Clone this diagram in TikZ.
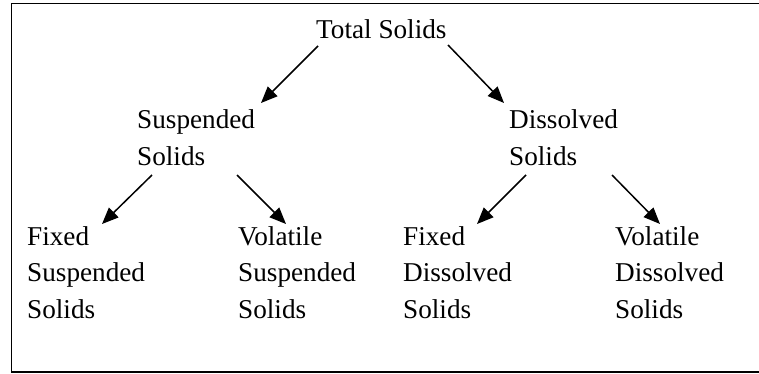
\documentclass[tikz,border=0pt]{standalone}
\usepackage{fontspec}
\setmainfont{Liberation Serif}
\usetikzlibrary{arrows.meta}
\begin{document}
\begin{tikzpicture}[x=1pt,y=-1pt,
  lbl/.style={anchor=base west,inner sep=0pt,font=\fontsize{27.2}{36.5}\selectfont,align=left},
  arr/.style={line width=1.5pt,-{Triangle[length=16.5pt,width=13.5pt]}}]
\useasboundingbox (0,0) rectangle (759,373);
\begin{scope}
\clip (0,0) rectangle (759,373);
\draw[line width=1.6pt] (11.5,3.5) rectangle (770,372);
\end{scope}
\node[lbl] (ts) at (316,38) {Total Solids};
\node[lbl] (ss) at (137,165) {Suspended\\Solids};
\node[lbl] (ds) at (509,165) {Dissolved\\Solids};
\node[lbl] (fss) at (27,318) {Fixed\\Suspended\\Solids};
\node[lbl] (vss) at (238,318) {Volatile\\Suspended\\Solids};
\node[lbl] (fds) at (403,318) {Fixed\\Dissolved\\Solids};
\node[lbl] (vds) at (615,318) {Volatile\\Dissolved\\Solids};
\coordinate (a1s) at (318,46); \coordinate (a1e) at (261,103);
\coordinate (a2s) at (448,45); \coordinate (a2e) at (504,103);
\coordinate (a3s) at (152,175); \coordinate (a3e) at (102,224);
\coordinate (a4s) at (237,175); \coordinate (a4e) at (286,224);
\coordinate (a5s) at (526,175); \coordinate (a5e) at (477,224);
\coordinate (a6s) at (612,175); \coordinate (a6e) at (660,224);
\draw[arr] (a1s) -- (a1e);
\draw[arr] (a2s) -- (a2e);
\draw[arr] (a3s) -- (a3e);
\draw[arr] (a4s) -- (a4e);
\draw[arr] (a5s) -- (a5e);
\draw[arr] (a6s) -- (a6e);
\end{tikzpicture}
\end{document}
